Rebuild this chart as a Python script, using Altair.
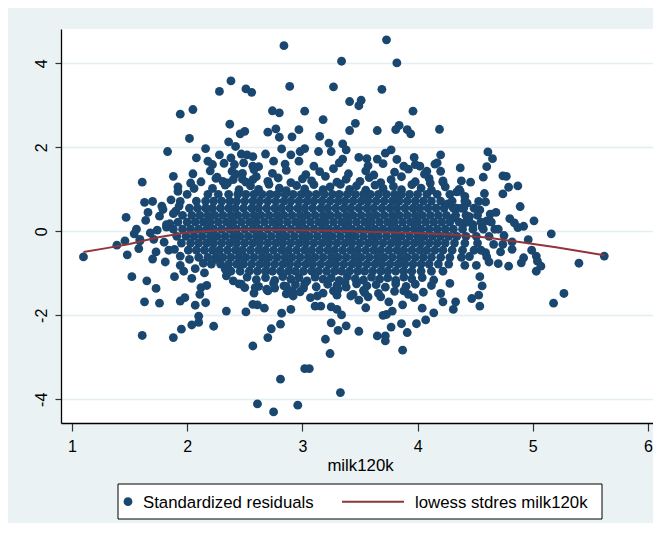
import altair as alt
import pandas as pd

NAVY = "#1a476f"
MAROON = "#90353b"
S_LABEL = "Standardized residuals"
L_LABEL = "lowess stdres milk120k"

# ---- scattered points (milk120k, standardized residual) ----
upper_points = [
    (2.38, 3.58), (2.28, 3.33), (2.51, 3.39), (2.56, 3.31), (1.94, 2.79), (2.05, 2.90),
    (2.37, 2.55), (2.46, 2.32), (2.50, 2.38), (2.02, 2.21), (1.83, 1.90), (2.16, 1.97),
    (2.08, 1.75), (2.28, 1.82), (2.36, 2.13), (2.42, 2.02), (2.18, 1.67), (2.22, 1.59),
    (2.38, 1.75), (2.47, 1.84), (2.52, 1.82), (2.57, 1.78), (2.41, 1.59), (2.39, 1.43),
    (2.49, 1.63), (2.57, 1.55), (2.48, 1.38), (2.05, 1.37), (2.03, 1.15), (1.88, 1.31),
    (1.92, 1.06), (1.61, 1.17), (2.26, 1.29), (2.31, 1.19), (2.40, 1.23), (2.51, 1.17),
    (2.57, 1.23),
    (2.84, 4.42), (3.73, 4.56), (3.34, 4.05), (3.82, 4.01), (2.89, 3.45), (3.27, 3.44),
    (3.69, 3.38), (3.41, 3.09), (3.49, 2.99), (3.51, 3.12), (2.74, 2.87), (2.80, 2.82),
    (3.02, 2.86), (3.18, 2.66), (3.96, 2.86), (3.46, 2.57), (3.41, 2.40), (3.65, 2.40),
    (3.81, 2.42), (3.84, 2.52), (3.91, 2.42), (3.94, 2.32), (4.19, 2.43), (2.70, 2.36),
    (2.77, 2.44), (2.80, 2.24), (2.91, 2.25), (2.97, 2.42), (3.15, 2.26), (2.82, 1.96),
    (2.68, 1.84), (2.75, 1.67), (2.90, 1.82), (2.98, 1.90), (3.02, 1.97), (2.97, 1.67),
    (3.14, 1.90), (3.23, 2.10), (3.25, 1.90), (3.35, 2.08), (3.38, 1.94), (3.35, 1.72),
    (3.49, 1.76), (3.56, 1.73), (3.65, 1.72), (3.72, 1.86), (3.77, 1.94), (3.82, 1.71),
    (3.97, 1.76), (4.20, 1.82), (4.17, 1.63), (4.37, 1.51), (4.22, 1.17), (4.11, 1.15),
    (4.02, 1.55), (4.08, 1.43), (3.98, 1.59),
]

upper_fringe = [
    (2.22, 1.02), (2.33, 1.10), (2.45, 0.99), (2.55, 1.08), (2.62, 1.00), (2.71, 1.12),
    (2.80, 1.03), (2.86, 0.97), (2.95, 1.09), (3.02, 1.01), (3.10, 1.11), (3.18, 0.99),
    (3.24, 1.06), (3.33, 1.12), (3.41, 1.00), (3.47, 1.08), (3.55, 0.98), (3.63, 1.10),
    (3.70, 1.02), (3.79, 1.07), (3.86, 0.99), (3.95, 1.11), (4.03, 1.03), (4.12, 0.98),
    (4.24, 1.06), (4.36, 1.00),
    (2.12, 1.18), (2.25, 1.26), (2.35, 1.15), (2.48, 1.24), (2.60, 1.30), (2.70, 1.19),
    (2.79, 1.27), (2.90, 1.16), (3.00, 1.25), (3.08, 1.20), (3.20, 1.31), (3.30, 1.17),
    (3.38, 1.24), (3.50, 1.19), (3.58, 1.28), (3.68, 1.16), (3.77, 1.23), (3.86, 1.30),
    (3.98, 1.18), (4.10, 1.26), (4.22, 1.20),
    (2.20, 1.44), (2.42, 1.36), (2.58, 1.47), (2.74, 1.38), (2.86, 1.45), (3.03, 1.35),
    (3.15, 1.42), (3.27, 1.49), (3.40, 1.37), (3.55, 1.44), (3.62, 1.34), (3.80, 1.41),
    (3.92, 1.48), (4.06, 1.36), (4.20, 1.43),
    (2.32, 1.62), (2.62, 1.54), (2.85, 1.60), (3.10, 1.55), (3.32, 1.63), (3.57, 1.56),
    (3.70, 1.61), (3.88, 1.55), (4.15, 1.60),
]

right_points = [
    (4.34, 0.94), (4.26, 0.65), (4.34, 0.55), (4.31, 0.32),
    (4.61, 1.89), (4.65, 1.73), (4.60, 1.54), (4.57, 1.29), (4.74, 1.32), (4.77, 1.31),
    (4.79, 1.05), (4.87, 1.08), (4.74, 0.89), (4.89, 0.59), (5.01, 0.25), (4.84, 0.20),
    (4.63, 0.41), (4.46, 1.17), (4.38, 1.20), (4.58, 0.90), (4.41, 0.83), (4.37, 0.95),
    (4.53, 0.71), (4.59, 0.70), (4.54, 0.51), (4.43, 0.67), (4.38, 0.55), (4.41, 0.20),
    (4.48, 0.16), (4.56, 0.10),
    (5.62, -0.59), (5.40, -0.76), (5.27, -1.48), (5.18, -1.71), (5.16, -0.06), (5.07, -0.83),
    (5.03, -0.95), (4.99, -0.45), (5.03, -0.59), (5.04, -0.71), (4.92, -0.63), (4.90, -0.75),
    (4.87, 0.09), (4.82, -0.25), (4.82, -0.43), (4.72, -0.49), (4.74, -0.31), (4.66, -0.31),
    (4.59, -0.51), (4.60, -0.61), (4.62, -0.73), (4.70, -0.77), (4.79, -0.83), (4.41, -0.81),
    (4.51, -0.81), (4.54, -1.08), (4.56, -1.30), (4.53, -1.52), (4.47, -1.60), (4.54, -1.78),
    (4.45, 0.35), (4.60, 0.25), (4.70, 0.05), (4.75, -0.10), (4.68, 0.45), (4.80, 0.30),
    (4.92, 0.12), (4.96, -0.20), (4.55, -0.45), (4.45, -0.60),
]

left_points = [
    (1.10, -0.61), (1.39, -0.33), (1.46, -0.23), (1.54, -0.06), (1.59, -0.23), (1.59, -0.19),
    (1.48, -0.56), (1.73, -0.49), (1.71, -0.19), (1.74, 0.03), (1.82, 0.10), (1.47, 0.33),
    (1.82, 0.16), (1.63, 0.69), (1.70, 0.71), (1.78, 0.60), (1.86, 0.75), (1.94, 0.71),
    (1.90, 0.48), (1.56, 0.05), (1.64, 0.26), (1.68, -0.04), (1.76, 0.36), (1.80, -0.26),
    (1.85, 0.18), (1.79, 0.52), (1.66, 0.45), (1.58, -0.41), (1.70, -0.66), (1.84, -0.45),
    (1.88, 0.42), (1.93, 0.60), (1.81, -0.73), (1.89, -0.43), (1.94, -0.59), (2.02, -0.67),
    (1.94, -0.81), (1.97, -0.95), (2.07, -0.89), (2.15, -0.99), (2.14, -0.76), (2.25, -0.67),
    (2.33, -0.90), (1.89, -1.08), (2.04, -1.12), (1.52, -1.08), (1.65, -1.18), (1.73, -1.36),
    (1.92, 0.95), (2.00, 0.88), (2.06, 1.02),
]

lower_fringe = [
    (2.52, -1.09), (2.60, -1.15), (2.68, -1.10), (2.76, -1.17), (2.83, -1.08), (2.90, -1.14),
    (2.97, -1.10), (3.04, -1.18), (3.11, -1.09), (3.18, -1.14), (3.25, -1.11), (3.32, -1.17),
    (3.39, -1.08), (3.46, -1.13), (3.53, -1.16), (3.60, -1.09), (3.67, -1.14), (3.74, -1.11),
    (3.81, -1.17), (3.88, -1.09), (3.95, -1.13), (4.04, -1.10), (4.14, -1.16),
    (2.45, -1.25), (2.62, -1.31), (2.75, -1.24), (2.84, -1.30), (2.94, -1.27), (3.02, -1.24),
    (3.12, -1.32), (3.22, -1.26), (3.30, -1.29), (3.38, -1.33), (3.47, -1.25), (3.56, -1.30),
    (3.64, -1.27), (3.72, -1.33), (3.81, -1.25), (3.90, -1.31), (3.98, -1.26), (4.12, -1.29),
    (4.28, -1.24),
    (2.58, -1.47), (2.70, -1.42), (2.86, -1.49), (2.98, -1.44), (3.18, -1.47), (3.30, -1.52),
    (3.53, -1.41), (3.66, -1.48), (3.80, -1.43), (3.92, -1.50), (4.05, -1.45), (4.20, -1.48),
]

lower_points = [
    (1.63, -1.68), (1.76, -1.71), (1.61, -2.48), (1.88, -2.53), (1.95, -2.33), (2.04, -2.23),
    (2.10, -2.02), (2.10, -2.17), (2.23, -2.26), (1.94, -1.66), (1.98, -1.58), (2.07, -1.76),
    (2.16, -1.70), (2.11, -1.50), (2.12, -1.34), (2.17, -1.29), (2.34, -1.90), (2.51, -1.92),
    (2.57, -1.74), (2.61, -1.75), (2.57, -2.73), (2.61, -4.11), (2.34, -1.06), (2.40, -1.18),
    (2.47, -1.26), (2.50, -1.34), (2.59, -1.34),
    (2.81, -3.52), (2.75, -4.30), (2.96, -4.14), (3.02, -3.27), (3.06, -3.27), (3.33, -3.84),
    (3.24, -2.91), (3.20, -2.57), (3.87, -2.83), (2.70, -2.53), (2.73, -2.32), (2.81, -2.21),
    (2.82, -1.95), (2.90, -1.86), (2.67, -1.83), (3.25, -2.18), (3.31, -2.36), (3.38, -2.25),
    (3.34, -1.99), (3.25, -1.80), (3.30, -1.86), (3.49, -2.38), (3.65, -2.49), (3.72, -2.49),
    (3.72, -2.61), (3.77, -2.28), (3.86, -2.20), (3.91, -2.41), (3.99, -2.20), (4.07, -2.11),
    (4.14, -1.94), (3.70, -2.00), (3.73, -1.98), (3.78, -1.90), (3.87, -1.75), (4.04, -1.83),
    (4.22, -1.68), (4.31, -1.86), (4.33, -1.68), (3.42, -1.54), (3.49, -1.64), (3.55, -1.82),
    (3.57, -1.56), (3.54, -1.46), (3.44, -1.50), (3.68, -1.56), (3.75, -1.68), (3.88, -1.42),
    (3.97, -1.58), (3.11, -1.78), (3.16, -1.78), (3.27, -1.42), (3.31, -1.38), (3.37, -1.22),
    (3.07, -1.58), (3.13, -1.54), (2.92, -1.54), (2.91, -1.42), (2.69, -1.38), (2.76, -1.35),
    (2.86, -1.31), (3.01, -1.35),
]

# ---- dense core of the cloud, estimated row by row (residual level, milk120k values) ----
cloud_levels = [0.88, 0.72, 0.55, 0.38, 0.22, 0.05, -0.12, -0.28, -0.45, -0.62, -0.78, -0.95]
cloud_xs = [
    [2.18, 2.27, 2.36, 2.44, 2.51, 2.58, 2.65, 2.72, 2.78, 2.85, 2.92, 2.99, 3.05, 3.12, 3.19,
     3.26, 3.32, 3.39, 3.46, 3.53, 3.59, 3.66, 3.73, 3.80, 3.86, 3.93, 4.00, 4.08, 4.17, 4.28],
    [2.08, 2.16, 2.23, 2.30, 2.37, 2.43, 2.50, 2.57, 2.63, 2.70, 2.77, 2.84, 2.90, 2.97, 3.04,
     3.10, 3.17, 3.24, 3.31, 3.37, 3.44, 3.51, 3.57, 3.64, 3.71, 3.78, 3.84, 3.91, 3.98, 4.05,
     4.12, 4.20, 4.30, 4.41],
    [2.02, 2.09, 2.16, 2.22, 2.29, 2.36, 2.42, 2.49, 2.56, 2.62, 2.69, 2.76, 2.82, 2.89, 2.96,
     3.02, 3.09, 3.16, 3.22, 3.29, 3.36, 3.42, 3.49, 3.56, 3.62, 3.69, 3.76, 3.82, 3.89, 3.96,
     4.02, 4.09, 4.16, 4.23, 4.31, 4.40, 4.49],
    [1.96, 2.04, 2.11, 2.18, 2.24, 2.31, 2.38, 2.44, 2.51, 2.58, 2.64, 2.71, 2.78, 2.84, 2.91,
     2.98, 3.04, 3.11, 3.18, 3.24, 3.31, 3.38, 3.44, 3.51, 3.58, 3.64, 3.71, 3.78, 3.84, 3.91,
     3.98, 4.04, 4.11, 4.18, 4.25, 4.33, 4.42, 4.52],
    [1.92, 2.00, 2.07, 2.14, 2.20, 2.27, 2.34, 2.40, 2.47, 2.54, 2.60, 2.67, 2.74, 2.80, 2.87,
     2.94, 3.00, 3.07, 3.14, 3.20, 3.27, 3.34, 3.40, 3.47, 3.54, 3.60, 3.67, 3.74, 3.80, 3.87,
     3.94, 4.00, 4.07, 4.14, 4.21, 4.28, 4.36, 4.45, 4.55, 4.64],
    [1.88, 1.96, 2.03, 2.10, 2.17, 2.23, 2.30, 2.37, 2.43, 2.50, 2.57, 2.63, 2.70, 2.77, 2.83,
     2.90, 2.97, 3.03, 3.10, 3.17, 3.23, 3.30, 3.37, 3.43, 3.50, 3.57, 3.63, 3.70, 3.77, 3.83,
     3.90, 3.97, 4.03, 4.10, 4.17, 4.24, 4.31, 4.39, 4.48, 4.57, 4.67],
    [1.91, 1.99, 2.06, 2.13, 2.20, 2.26, 2.33, 2.40, 2.46, 2.53, 2.60, 2.66, 2.73, 2.80, 2.86,
     2.93, 3.00, 3.06, 3.13, 3.20, 3.26, 3.33, 3.40, 3.46, 3.53, 3.60, 3.66, 3.73, 3.80, 3.86,
     3.93, 4.00, 4.06, 4.13, 4.20, 4.27, 4.34, 4.42, 4.51, 4.62],
    [1.95, 2.03, 2.10, 2.17, 2.23, 2.30, 2.37, 2.43, 2.50, 2.57, 2.63, 2.70, 2.77, 2.83, 2.90,
     2.97, 3.03, 3.10, 3.17, 3.23, 3.30, 3.37, 3.43, 3.50, 3.57, 3.63, 3.70, 3.77, 3.83, 3.90,
     3.97, 4.03, 4.10, 4.17, 4.24, 4.32, 4.41, 4.52],
    [2.01, 2.08, 2.15, 2.22, 2.28, 2.35, 2.42, 2.48, 2.55, 2.62, 2.68, 2.75, 2.82, 2.88, 2.95,
     3.02, 3.08, 3.15, 3.22, 3.28, 3.35, 3.42, 3.48, 3.55, 3.62, 3.68, 3.75, 3.82, 3.88, 3.95,
     4.02, 4.08, 4.15, 4.22, 4.30, 4.39, 4.49],
    [2.10, 2.18, 2.25, 2.31, 2.38, 2.45, 2.51, 2.58, 2.65, 2.71, 2.78, 2.85, 2.91, 2.98, 3.05,
     3.11, 3.18, 3.25, 3.31, 3.38, 3.45, 3.51, 3.58, 3.65, 3.71, 3.78, 3.85, 3.91, 3.98, 4.05,
     4.12, 4.20, 4.28, 4.38],
    [2.21, 2.29, 2.36, 2.43, 2.49, 2.56, 2.63, 2.69, 2.76, 2.83, 2.89, 2.96, 3.03, 3.09, 3.16,
     3.23, 3.29, 3.36, 3.43, 3.49, 3.56, 3.63, 3.69, 3.76, 3.83, 3.89, 3.96, 4.03, 4.10, 4.18,
     4.27],
    [2.38, 2.46, 2.54, 2.61, 2.68, 2.74, 2.81, 2.88, 2.94, 3.01, 3.08, 3.14, 3.21, 3.28, 3.34,
     3.41, 3.48, 3.54, 3.61, 3.68, 3.74, 3.81, 3.88, 3.95, 4.03, 4.12, 4.22],
]

# ---- lowess smooth ----
lowess_x = [1.10, 1.30, 1.50, 1.75, 2.00, 2.25, 2.50, 2.80, 3.10, 3.40, 3.70, 4.00,
            4.30, 4.60, 4.90, 5.20, 5.62]
lowess_y = [-0.49, -0.40, -0.30, -0.14, -0.03, 0.02, 0.04, 0.03, 0.02, 0.01, -0.02,
            -0.04, -0.08, -0.15, -0.26, -0.38, -0.57]

x_ticks = [1, 2, 3, 4, 5, 6]
y_ticks = [-4, -2, 0, 2, 4]
legend_labels = [S_LABEL, L_LABEL]

pairs = upper_points + upper_fringe + right_points + left_points + lower_fringe + lower_points
for lvl, xs in zip(cloud_levels, cloud_xs):
    pairs += [(x, lvl) for x in xs]

pts = pd.DataFrame(pairs, columns=["x", "y"])
line = pd.DataFrame({"x": lowess_x, "y": lowess_y})

FONT = "Liberation Sans"
DOT = 78

x_enc = alt.X("x:Q",
              scale=alt.Scale(domain=[0.905, 6.043], nice=False, zero=False),
              axis=alt.Axis(values=x_ticks, title="milk120k", grid=False, tickSize=8,
                            labelPadding=20.7, labelBaseline="alphabetic", labelFlush=False,
                            labelExpr="datum.value + ''",
                            titleX=299, titleY=47, titleBaseline="alphabetic"))
y_enc = alt.Y("y:Q",
              scale=alt.Scale(domain=[-4.564, 4.817], nice=False, zero=False),
              axis=alt.Axis(values=y_ticks, title=None, grid=True, gridColor="#E4EDF0",
                            gridWidth=1.5, tickSize=6, labelAngle=270, labelAlign="center",
                            labelBaseline="alphabetic", labelPadding=8.3, labelFlush=False,
                            labelExpr="datum.value + ''"))

points = alt.Chart(pts).mark_circle(size=DOT, opacity=1, color=NAVY).encode(x=x_enc, y=y_enc)
smooth = alt.Chart(line).mark_line(strokeWidth=2, color=MAROON).encode(x="x:Q", y="y:Q")

# ---- legend box below the x-axis title (Stata style), drawn in the chart's own frame ----
lab1 = pd.DataFrame({"label": [legend_labels[0]]})
lab2 = pd.DataFrame({"label": [legend_labels[1]]})
leg_box = alt.Chart(lab1).mark_rect(fill="white", stroke="black", strokeWidth=1).encode(
    x=alt.value(57), x2=alt.value(541), y=alt.value(455), y2=alt.value(490))
leg_dot = alt.Chart(lab1).mark_circle(size=DOT, opacity=1, color=NAVY).encode(
    x=alt.value(67), y=alt.value(472.7))
leg_line = alt.Chart(lab2).mark_rule(strokeWidth=2, color=MAROON).encode(
    x=alt.value(281), x2=alt.value(343), y=alt.value(472.7))
leg_t1 = alt.Chart(lab1).mark_text(align="left", baseline="alphabetic", font=FONT,
                                   fontSize=16.8, color="black").encode(
    x=alt.value(82), y=alt.value(479), text="label:N")
leg_t2 = alt.Chart(lab2).mark_text(align="left", baseline="alphabetic", font=FONT,
                                   fontSize=16.8, color="black").encode(
    x=alt.value(354), y=alt.value(479), text="label:N")

chart = alt.layer(points, smooth, leg_box, leg_dot, leg_line, leg_t1, leg_t2).properties(
    width=592, height=394,
    autosize=alt.AutoSizeParams(type="none"),
    padding={"left": 53, "top": 21, "right": 0, "bottom": 100},
).configure(
    background="#EAF2F3", font=FONT,
).configure_view(
    fill="white", strokeWidth=0,
).configure_axis(
    domainColor="black", domainWidth=1.3, tickColor="#333333", tickWidth=1.2,
    labelFont=FONT, labelFontSize=16, labelColor="black",
    titleFont=FONT, titleFontSize=16.8, titleFontWeight="normal", titleColor="black",
)

chart.save("out.html", embed_options={"renderer": "svg", "actions": False})
